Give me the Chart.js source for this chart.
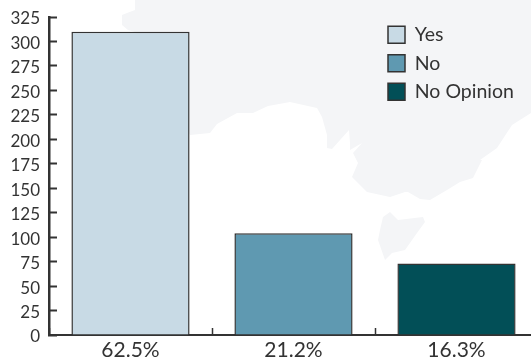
<!DOCTYPE html>
<html>
<head>
<meta charset="utf-8">
<script src="https://cdn.jsdelivr.net/npm/chart.js@4"></script>
<style>
html,body{margin:0;padding:0;background:#fff;overflow:hidden;width:531px;height:360px}
#wrap{position:relative;width:531px;height:360px;overflow:hidden}
#map{position:absolute;left:0;top:0;width:531px;height:360px;background:#f4f5f7;
clip-path:polygon(evenodd,135px 0,531px 0,531px 113px,512px 125px,497px 148px,480px 160px,482px 160px,473px 178px,460px 182px,447px 190px,430px 200px,420px 199px,408px 192px,405px 192px,390px 197px,367px 192px,352px 177px,358px 163px,353px 153px,362px 143px,350px 150px,350px 143px,349px 130px,332px 149px,327px 148px,327px 135px,322px 117px,317px 108px,290px 102px,268px 106px,253px 113px,237px 113px,217px 124px,210px 133px,190px 135px,135px 32px,128px 30px,122px 25px,122px 15px,127px 13px,135px 10px);
}
#map2{position:absolute;left:0;top:0;width:531px;height:360px;background:#f4f5f7;
clip-path:polygon(378px 240px,380px 230px,383px 217px,390px 212px,398px 220px,423px 217px,425px 222px,417px 233px,405px 250px,392px 253px,385px 260px);
}
canvas{position:absolute;left:0;top:0}
</style>
</head>
<body>
<div id="wrap">
<div id="map"></div>
<div id="map2"></div>
<canvas id="c" width="538" height="360"></canvas>
</div>
<script>
const percentLabels = ["62.5%", "21.2%", "16.3%"];
const legendNames = ["Yes", "No", "No Opinion"];
const counts = [310, 104, 73];
const barColors = ["#c8dae5", "#5f99b1", "#024f57"];
const inkColor = "#333333";

const moveLegend = {
  id: "moveLegend",
  afterLayout(chart) {
    const l = chart.legend;
    const w = l.right - l.left, h = l.bottom - l.top;
    l.left = 379; l.right = l.left + w;
    l.top = 16; l.bottom = l.top + h;
  }
};

new Chart(document.getElementById("c"), {
  type: "bar",
  data: {
    labels: percentLabels,
    datasets: [{
      data: counts,
      backgroundColor: barColors,
      borderColor: inkColor,
      borderWidth: 1.5,
      categoryPercentage: 0.725,
      barPercentage: 1
    }]
  },
  plugins: [moveLegend],
  options: {
    responsive: false,
    animation: false,
    layout: { padding: { left: 0, top: 17, right: 0, bottom: 0 } },
    plugins: {
      tooltip: { enabled: false },
      title: { display: false },
      legend: {
        position: "chartArea",
        align: "start",
        labels: {
          boxWidth: 17,
          boxHeight: 17,
          padding: 9,
          color: inkColor,
          font: { family: "Lato", size: 19.5 },
          generateLabels: () => legendNames.map((n, i) => ({
            text: n, fillStyle: barColors[i], strokeStyle: inkColor,
            lineWidth: 1.5, fontColor: inkColor, hidden: false, index: i
          }))
        }
      }
    },
    scales: {
      x: {
        afterFit(s) { s.height = 25; },
        grid: { offset: true, drawOnChartArea: false, tickLength: -7, tickWidth: 1.5, tickColor: inkColor },
        border: { color: inkColor, width: 2 },
        ticks: { color: inkColor, padding: 10, font: { family: "Lato", size: 21 }, maxRotation: 0 }
      },
      y: {
        min: 0, max: 325,
        afterFit(s) { s.width = 49; s.paddingTop = 0; s.paddingBottom = 0; },
        grid: { drawOnChartArea: false, tickLength: -8, tickWidth: 2, tickColor: inkColor },
        border: { color: inkColor, width: 2.5 },
        ticks: { stepSize: 25, autoSkip: false, color: inkColor, padding: 17, labelOffset: 2, font: { family: "Lato", size: 17 } }
      }
    }
  }
});
</script>
</body>
</html>
